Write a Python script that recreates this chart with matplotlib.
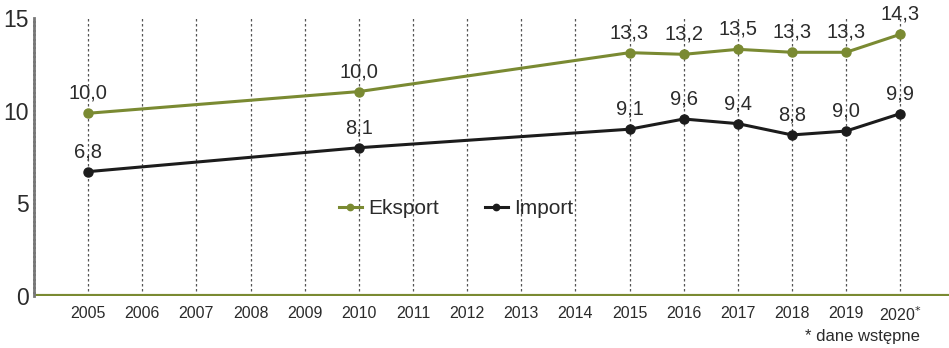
import matplotlib
matplotlib.use("Agg")
import matplotlib.pyplot as plt

plt.rcParams['font.family'] = ['Liberation Sans', 'DejaVu Sans']

years = list(range(2005, 2021))
year_labels = [str(y) for y in years[:-1]] + ["2020$^{*}$"]
point_years = [2005, 2010, 2015, 2016, 2017, 2018, 2019, 2020]
eksport = [9.86, 11.03, 13.13, 13.04, 13.31, 13.15, 13.15, 14.12]
import_ = [6.71, 8.00, 9.00, 9.55, 9.30, 8.69, 8.90, 9.84]
eksport_labels = ["10,0", "10,0", "13,3", "13,2", "13,5", "13,3", "13,3", "14,3"]
import_labels = ["6,8", "8,1", "9,1", "9,6", "9,4", "8,8", "9,0", "9,9"]
yticks = [0, 5, 10, 15]

GREEN = "#7a8a32"
BLACK = "#1c1c1c"
TEXT = "#2b2b2b"

fig = plt.figure(figsize=(9.49, 3.48), dpi=100)
ax = fig.add_axes([34/949, 52/348, 1 - 34/949, (296 - 18)/348])
ax.set_xlim(2004.0, 2020.9)
ax.set_ylim(0, 15)

for y in years:
    ax.axvline(y, color="#555555", lw=0.9, ls=(0, (2, 2)), zorder=1, ymax=1.004)

ax.axhline(0, color=GREEN, lw=3, zorder=2, xmin=3/915)

ax.plot(point_years, eksport, color=GREEN, lw=2.2, marker="o", ms=6.5, zorder=3, label="Eksport")
ax.plot(point_years, import_, color=BLACK, lw=2.2, marker="o", ms=6.5, zorder=3, label="Import")

for x, v, t in zip(point_years, eksport, eksport_labels):
    ax.annotate(t, (x, v), xytext=(0, 7.5), textcoords="offset points", ha="center", va="bottom",
                fontsize=14.5, color=TEXT)
for x, v, t in zip(point_years, import_, import_labels):
    ax.annotate(t, (x, v), xytext=(0, 7.5), textcoords="offset points", ha="center", va="bottom",
                fontsize=14.5, color=TEXT)

for s in ["top", "right", "bottom"]:
    ax.spines[s].set_visible(False)
ax.spines["left"].set_color("#777777")
ax.spines["left"].set_linewidth(2)
ax.spines["left"].set_linestyle((0, (1, 0.6)))

ax.set_yticks(yticks)
ax.set_yticklabels([str(v) for v in yticks], fontsize=16.5, color=TEXT)
ax.tick_params(axis="y", length=0, pad=4)
ax.set_xticks(years)
ax.set_xticklabels(year_labels, fontsize=11.5, color=TEXT)
ax.tick_params(axis="x", length=0, pad=7)

leg = ax.legend(loc="center", bbox_to_anchor=((456 - 34)/915, (296 - 209)/278), ncol=2,
                frameon=False, fontsize=15, handlelength=1.1, columnspacing=2.2,
                handletextpad=0.3, markerscale=0.7, borderpad=0)
for t in leg.get_texts():
    t.set_color(TEXT)

fig.text(920/949, 1 - 336/348, "* dane wstępne", ha="right", va="center", fontsize=12, color=TEXT)

fig.savefig("out.png", dpi=100)
